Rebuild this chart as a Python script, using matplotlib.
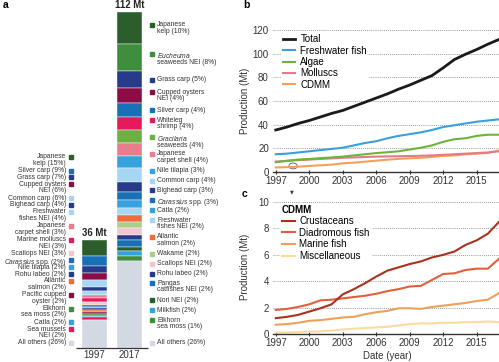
import matplotlib
matplotlib.use('Agg')
import matplotlib.pyplot as plt
import numpy as np
from matplotlib.patches import Ellipse

plt.rcParams['font.family'] = ['Liberation Sans', 'DejaVu Sans']
plt.rcParams['mathtext.fontset'] = 'custom'
plt.rcParams['mathtext.it'] = 'Liberation Sans:italic'
plt.rcParams['mathtext.rm'] = 'Liberation Sans'

# colours used in the bars
DKGREEN = '#2c5e2b'
GREEN = '#3e8e3e'
LTGREEN = '#6cb044'
PALEGREEN = '#a8cf8c'
NAVY = '#283b8a'
MAROON = '#8c0d45'
BLUE = '#1a70b6'
CYAN = '#35a2de'
PALEBLUE = '#a5d6f2'
PINK = '#ea7d8d'
MAGENTA = '#e8185e'
PALEPINK = '#f4c4cf'
ORANGE = '#ef6b3b'
GREY = '#d2d9e2'

# ---- panel a data (Mt), listed top of bar -> bottom
labels_1997 = ['Japanese\nkelp (15%)', 'Silver carp (9%)', 'Grass carp (7%)',
               'Cupped oysters\nNEI (6%)', 'Common carp (6%)', 'Bighead carp (4%)',
               'Freshwater\nfishes NEI (4%)', 'Japanese\ncarpet shell (3%)',
               'Marine molluscs\nNEI (3%)', 'Scallops NEI (3%)',
               r'$\it{Carassius}$ spp. (2%)', 'Nile tilapia (2%)', 'Rohu labeo (2%)',
               'Atlantic\nsalmon (2%)', 'Pacific cupped\noyster (2%)',
               'Elkhorn\nsea moss (2%)', 'Catla (2%)', 'Sea mussels\nNEI (2%)',
               'All others (26%)']
values_1997 = [5.4, 3.2, 2.5, 2.2, 2.2, 1.4, 1.4, 1.1, 1.1, 1.1,
               0.6, 0.6, 0.6, 0.6, 0.6, 0.6, 0.6, 0.8, 9.4]
colors_1997 = [DKGREEN, BLUE, NAVY, MAROON, PALEBLUE, NAVY, PALEBLUE, PINK,
               MAGENTA, PALEPINK, BLUE, CYAN, NAVY, ORANGE, MAROON, GREEN,
               CYAN, MAGENTA, GREY]

labels_2017 = ['Japanese\nkelp (10%)', '$\\it{Eucheuma}$\nseaweeds NEI (8%)',
               'Grass carp (5%)', 'Cupped oysters\nNEI (4%)', 'Silver carp (4%)',
               'Whiteleg\nshrimp (4%)', '$\\it{Gracilaria}$\nseaweeds (4%)',
               'Japanese\ncarpet shell (4%)', 'Nile tilapia (3%)', 'Common carp (4%)',
               'Bighead carp (3%)', r'$\it{Carassius}$ spp. (3%)', 'Catla (2%)',
               'Freshwater\nfishes NEI (2%)', 'Atlantic\nsalmon (2%)', 'Wakame (2%)',
               'Scallops NEI (2%)', 'Rohu labeo (2%)', 'Pangas\ncatfishes NEI (2%)',
               'Nori NEI (2%)', 'Milkfish (2%)', 'Elkhorn\nsea moss (1%)',
               'All others (26%)']
values_2017 = [10.7, 9.0, 5.7, 5.0, 4.7, 4.3, 4.3, 4.3, 4.0, 4.7, 3.3, 2.7, 2.7,
               2.3, 2.3, 2.0, 2.3, 1.7, 2.3, 1.3, 1.7, 1.7, 29.0]
colors_2017 = [DKGREEN, GREEN, NAVY, MAROON, BLUE, MAGENTA, LTGREEN, PINK, CYAN,
               PALEBLUE, NAVY, BLUE, CYAN, PALEBLUE, ORANGE, PALEGREEN, PALEPINK,
               NAVY, BLUE, DKGREEN, CYAN, GREEN, GREY]

# ---- panel b/c data
years = np.arange(1997, 2018)
total = [35.5, 38, 41, 43.5, 46.5, 49.5, 52, 55.5, 59, 62.5, 66, 70, 73.5, 77.5,
         81.5, 88, 95, 99.5, 103.5, 108, 112]
freshwater = [15, 15.5, 16.5, 17.5, 18.5, 19.5, 20.5, 22.5, 24.5, 26, 28.5, 30.5,
              32, 33.5, 35.5, 38, 39.5, 41, 42.5, 43.5, 44.5]
algae = [8.3, 9.5, 10.5, 11, 11.7, 12.3, 13, 14, 15, 16, 16.7, 17.5, 19, 20.5,
         22.5, 25.5, 27.7, 28.5, 30.5, 31.5, 31.5]
molluscs = [8.8, 9.3, 10, 10.5, 11, 11.5, 12, 12.3, 12.7, 13, 13.2, 13.3, 13.5,
            13.7, 14, 14.5, 15, 15.5, 16, 16.5, 17.5]
cdmm = [3.8, 4.1, 4.5, 5.1, 5.7, 6.2, 7.3, 7.9, 8.7, 9.6, 10.4, 11.1, 11.6, 11.9,
        12.8, 13.6, 14.0, 14.9, 15.5, 16.1, 18.2]

crustaceans = [1.2, 1.3, 1.45, 1.7, 1.95, 2.25, 3.0, 3.4, 3.85, 4.35, 4.8, 5.05,
               5.3, 5.5, 5.8, 6.0, 6.25, 6.75, 7.1, 7.6, 8.5]
diadromous = [1.82, 1.9, 2.05, 2.25, 2.55, 2.6, 2.7, 2.8, 2.9, 3.05, 3.25, 3.4,
              3.6, 3.65, 4.1, 4.55, 4.6, 4.85, 4.95, 4.95, 5.7]
marine = [0.7, 0.75, 0.85, 1.0, 1.05, 1.15, 1.25, 1.3, 1.5, 1.65, 1.75, 1.95,
          1.95, 1.9, 2.05, 2.15, 2.25, 2.35, 2.5, 2.6, 3.1]
misc = [0.1, 0.12, 0.15, 0.18, 0.2, 0.25, 0.35, 0.4, 0.45, 0.5, 0.55, 0.65, 0.75,
        0.8, 0.8, 0.85, 0.85, 0.9, 0.9, 0.95, 0.9]

W, H = 499, 362


def rect(x0, y0, x1, y1):
    # pixel box -> figure fraction
    return [x0 / W, 1 - y1 / H, (x1 - x0) / W, (y1 - y0) / H]


def place_labels(natural, nlines, line_h, gap, bottom_y):
    # simple label repel, positions are y of the first text line
    ys = list(natural)
    heights = [k * line_h + gap for k in nlines]
    for i in range(1, len(ys) - 1):
        ys[i] = min(ys[i], ys[i - 1] - heights[i - 1])
    ys[-1] = bottom_y
    for i in range(len(ys) - 2, -1, -1):
        ys[i] = max(ys[i], ys[i + 1] + heights[i])
    return ys


fig = plt.figure(figsize=(W / 100, H / 100), dpi=100)

# ================= panel a
ax = fig.add_axes(rect(0, 0, 240, 362))
ax.set_xlim(0, 240)
ax.set_ylim(-14 / 3, 116)
ax.axis('off')

LINE = 6.9 / 3   # one text line in Mt units


def stacked(xc, values, colors, labels, text_x, mark_x, side, gap, total_txt):
    values = np.array(values)
    bottoms = np.cumsum(values[::-1])[::-1] - values
    ax.bar([xc] * len(values), values, width=25, bottom=bottoms, color=colors,
           edgecolor='white', linewidth=0.3)
    nl = [lab.count('\n') + 1 for lab in labels]
    natural = [b + v / 2 + (k - 1) * LINE / 2 for b, v, k in zip(bottoms, values, nl)]
    ys = place_labels(natural, nl, LINE, gap, 5 / 3)
    for lab, c, y in zip(labels, colors, ys):
        ax.plot(mark_x, y, marker='s', ms=2.3, color=c, ls='none')
        ax.text(text_x, y + 3.5 / 3, lab, ha=side, va='top', fontsize=4.9,
                color='#333333', linespacing=0.9, multialignment=side)
    ax.text(xc, values.sum() + 0.6, total_txt, ha='center', va='bottom',
            fontsize=6.9, fontweight='bold', color='#222222')


stacked(94.5, values_1997, colors_1997, labels_1997, 66, 71, 'right', 0, '36 Mt')
stacked(129.5, values_2017, colors_2017, labels_2017, 157, 152, 'left', 1.0, '112 Mt')
ax.hlines(0, 76, 148, color='#333333', lw=0.9)
ax.text(94.5, -7 / 3, '1997', ha='center', va='center', fontsize=7, color='#333333')
ax.text(129.5, -7 / 3, '2017', ha='center', va='center', fontsize=7, color='#333333')


def style_line_axes(a, ymax, yticks):
    a.set_xlim(1996.75, 2017.0)
    a.set_ylim(0, ymax)
    a.set_xticks(np.arange(1997, 2016, 3))
    a.set_yticks(yticks)
    for s in ['top', 'right', 'left']:
        a.spines[s].set_visible(False)
    a.spines['bottom'].set_color('#333333')
    a.spines['bottom'].set_linewidth(1.0)
    a.tick_params(axis='x', length=3, width=0.8, direction='inout', pad=1.5,
                  labelsize=7, color='#333333', labelcolor='#333333')
    a.tick_params(axis='y', length=0, pad=3, labelsize=7, labelcolor='#333333')
    a.yaxis.grid(True, linestyle=(0, (1, 1.5)), color='#777777', lw=0.6)
    a.set_axisbelow(True)
    a.set_ylabel('Production (Mt)', fontsize=7, color='#333333')
    a.yaxis.set_label_coords(-0.1, 0.5)


# ================= panel b
axb = fig.add_axes(rect(273, 28.8, 499, 172))
style_line_axes(axb, 121, np.arange(0, 121, 20))
axb.plot(years, cdmm, color='#f5a05a', lw=1.5, label='CDMM')
axb.plot(years, molluscs, color='#e07b8c', lw=1.5, label='Molluscs')
axb.plot(years, algae, color='#6cb43c', lw=1.5, label='Algae')
axb.plot(years, freshwater, color='#3a9fdc', lw=1.5, label='Freshwater fish')
axb.plot(years, total, color='#1a1a1a', lw=2.0, label='Total')
axb.add_patch(Ellipse((1998.55, 5.1), 0.75, 5.0, fill=False, lw=0.6, ec='#555555'))
h, l = axb.get_legend_handles_labels()
leg = axb.legend(h[::-1], l[::-1], loc='upper left', bbox_to_anchor=(0.035, 0.975),
                 fontsize=7, handlelength=1.3, handletextpad=0.5, labelspacing=0.14,
                 borderpad=0.2, borderaxespad=0, frameon=True, fancybox=False)
leg.get_frame().set_edgecolor('none')
leg.get_frame().set_facecolor('white')
leg.get_frame().set_alpha(1)

# ================= panel c
axc = fig.add_axes(rect(273, 199.4, 499, 334))
style_line_axes(axc, 10.2, np.arange(0, 11, 2))
axc.plot(years, misc, color='#fadc9e', lw=1.5, label='Miscellaneous')
axc.plot(years, marine, color='#eda05a', lw=1.5, label='Marine fish')
axc.plot(years, diadromous, color='#e35f3c', lw=1.5, label='Diadromous fish')
axc.plot(years, crustaceans, color='#a8321e', lw=1.5, label='Crustaceans')
axc.set_xlabel('Date (year)', fontsize=7, color='#333333')
axc.xaxis.set_label_coords(0.507, -0.13)
h, l = axc.get_legend_handles_labels()
leg = axc.legend(h[::-1], l[::-1], loc='upper left', bbox_to_anchor=(0.031, 0.975),
                 title='CDMM', alignment='left',
                 title_fontproperties={'weight': 'bold', 'size': 7},
                 fontsize=7, handlelength=1.3, handletextpad=0.5, labelspacing=0.16,
                 borderpad=0.2, borderaxespad=0, frameon=True, fancybox=False)
leg.get_frame().set_edgecolor('none')
leg.get_frame().set_facecolor('white')
leg.get_frame().set_alpha(1)

# panel letters and small marker
fig.text(3 / W, 1 - 5 / H, 'a', fontsize=7.5, fontweight='bold', va='center')
fig.text(243 / W, 1 - 5 / H, 'b', fontsize=7.5, fontweight='bold', va='center')
fig.text(242 / W, 1 - 194 / H, 'c', fontsize=7.5, fontweight='bold', va='center')
fig.text(292 / W, 1 - 192 / H, '\u25bc', fontsize=3.5, ha='center', va='center',
         family='DejaVu Sans', color='#333333')

fig.savefig('out.png', dpi=100)
